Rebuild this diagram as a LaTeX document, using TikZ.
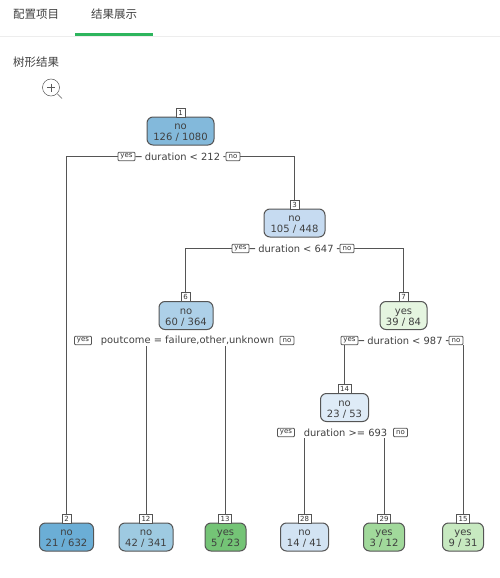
\documentclass[tikz,border=0pt]{standalone}
\usepackage{fontspec}
\setmainfont{DejaVu Sans}
\newfontfamily\cjk{Noto Sans CJK SC}
\definecolor{edge}{RGB}{85, 85, 85}
\definecolor{tabgreen}{RGB}{45, 181, 93}
\definecolor{blueA}{RGB}{107, 174, 214}
\definecolor{blueB}{RGB}{131, 185, 219}
\definecolor{blueC}{RGB}{158, 202, 225}
\definecolor{blueD}{RGB}{173, 208, 232}
\definecolor{blueE}{RGB}{198, 219, 241}
\definecolor{blueF}{RGB}{210, 227, 243}
\definecolor{blueG}{RGB}{222, 235, 247}
\definecolor{greenA}{RGB}{116, 196, 118}
\definecolor{greenB}{RGB}{161, 217, 155}
\definecolor{greenC}{RGB}{199, 233, 192}
\definecolor{greenD}{RGB}{229, 245, 224}
\tikzset{
  treebox/.style={draw=edge, line width=1pt, rounded corners=6pt, minimum height=28pt,
    inner sep=0pt, align=center, text=black!75, font=\fontsize{10}{11.2}\selectfont,
    execute at begin node=\rule{0pt}{20.5pt}},
  idbox/.style={draw=edge, fill=white, line width=0.7pt, minimum width=9pt, minimum height=9pt,
    inner sep=0pt, text=black!80, font=\fontsize{7}{7}\selectfont},
  splittext/.style={inner ysep=1pt, inner xsep=3pt, text=black!75, font=\fontsize{9.9}{11}\selectfont},
  answer/.style={draw=edge, fill=white, line width=0.8pt, rounded corners=1pt, minimum height=8.5pt,
    inner sep=0pt, text=black!80, font=\fontsize{7}{7}\selectfont},
  branch/.style={draw=edge, line width=1pt},
}
\begin{document}
\begin{tikzpicture}[x=1pt, y=-1pt]
        \useasboundingbox (0,0) rectangle (500,578);
        % Page header
        \node[font=\cjk\fontsize{11.5}{12}\selectfont, text=black!75] (tabconfig) at (36,14) {配置项目};
        \node[font=\cjk\fontsize{11.5}{12}\selectfont, text=black!75] (tabresult) at (114,14) {结果展示};
        \node[font=\cjk\fontsize{11.5}{12}\selectfont, text=black!75] (treetitle) at (36,62) {树形结果};
        \fill[black!7] (0,36) rectangle (500,37);
        \fill[tabgreen] (75,33) rectangle (153,36);
        % Zoom icon
        \draw[black!65, line width=0.5pt] (51,87.5) circle (8.5);
        \draw[black!65, line width=0.5pt] (47,87.5) -- (55,87.5) (51,83.5) -- (51,91.5);
        \draw[black!65, line width=0.5pt] (57.5,94) -- (62,98.5);
        % Tree nodes
        \node[treebox, fill=blueB, minimum width=67pt] (n1) at (180.5,131) {no\\126 / 1080};
        \node[treebox, fill=blueE, minimum width=61pt] (n3) at (294.5,223) {no\\105 / 448};
        \node[treebox, fill=blueD, minimum width=54pt] (n6) at (186,315.5) {no\\60 / 364};
        \node[treebox, fill=greenD, minimum width=47pt] (n7) at (403.5,315.5) {yes\\39 / 84};
        \node[treebox, fill=blueG, minimum width=48pt] (n14) at (344.5,407.5) {no\\23 / 53};
        \node[treebox, fill=blueA, minimum width=54pt] (n2) at (66.5,537) {no\\21 / 632};
        \node[treebox, fill=blueC, minimum width=54pt] (n12) at (146,537) {no\\42 / 341};
        \node[treebox, fill=greenA, minimum width=41pt] (n13) at (225.5,537) {yes\\5 / 23};
        \node[treebox, fill=blueF, minimum width=48pt] (n28) at (304.5,537) {no\\14 / 41};
        \node[treebox, fill=greenB, minimum width=41pt] (n29) at (384,537) {yes\\3 / 12};
        \node[treebox, fill=greenC, minimum width=41pt] (n15) at (463,537) {yes\\9 / 31};
        % Split conditions
        \node[splittext] (s1) at (182.5,157) {duration < 212};
        \node[splittext] (s3) at (296,249) {duration < 647};
        \node[splittext] (s6) at (187.5,340.5) {poutcome = failure,other,unknown};
        \node[splittext] (s7) at (405,341) {duration < 987};
        \node[splittext] (s14) at (345.5,433) {duration >= 693};
        % Yes and no tags
        \node[answer, minimum width=17pt] (y1) at (126.5,156.5) {yes};
        \node[answer, minimum width=14pt] (f1) at (233,156.5) {no};
        \node[answer, minimum width=17pt] (y3) at (240.5,248.5) {yes};
        \node[answer, minimum width=14pt] (f3) at (347,248.5) {no};
        \node[answer, minimum width=17pt] (y6) at (83,340.5) {yes};
        \node[answer, minimum width=14pt] (f6) at (287,340.5) {no};
        \node[answer, minimum width=17pt] (y7) at (349.5,340.5) {yes};
        \node[answer, minimum width=14pt] (f7) at (456,340.5) {no};
        \node[answer, minimum width=17pt] (y14) at (286,432.5) {yes};
        \node[answer, minimum width=14pt] (f14) at (400.5,432.5) {no};
        % Node numbers
        \node[idbox] (i1) at (180.5,113) {1};
        \node[idbox] (i3) at (294.5,205) {3};
        \node[idbox] (i6) at (185.5,297) {6};
        \node[idbox] (i7) at (403.5,297) {7};
        \node[idbox, minimum width=13pt] (i14) at (344.5,389) {14};
        \node[idbox] (i2) at (66.5,518.5) {2};
        \node[idbox, minimum width=13pt] (i12) at (146,518.5) {12};
        \node[idbox, minimum width=13pt] (i13) at (225,518.5) {13};
        \node[idbox, minimum width=13pt] (i28) at (304.5,518.5) {28};
        \node[idbox, minimum width=13pt] (i29) at (384,518.5) {29};
        \node[idbox, minimum width=13pt] (i15) at (463,518.5) {15};
        % Branches
        \draw[branch] (y1) -| (i2);
        \draw[branch] (f1) -| (i3);
        \draw[branch] (y1) -- (s1);
        \draw[branch] (s1) -- (f1);
        \draw[branch] (y3) -| (i6);
        \draw[branch] (f3) -| (i7);
        \draw[branch] (y3) -- (s3);
        \draw[branch] (s3) -- (f3);
        \draw[branch] (i12) -- (i12 |- s6.south);
        \draw[branch] (i13) -- (i13 |- s6.south);
        \draw[branch] (y7.south -| i14) -- (i14);
        \draw[branch] (f7.south -| i15) -- (i15);
        \draw[branch] (y7) -- (s7);
        \draw[branch] (s7) -- (f7);
        \draw[branch] (i28) -- (i28 |- s14.south);
        \draw[branch] (i29) -- (i29 |- s14.south);
\end{tikzpicture}
\end{document}
